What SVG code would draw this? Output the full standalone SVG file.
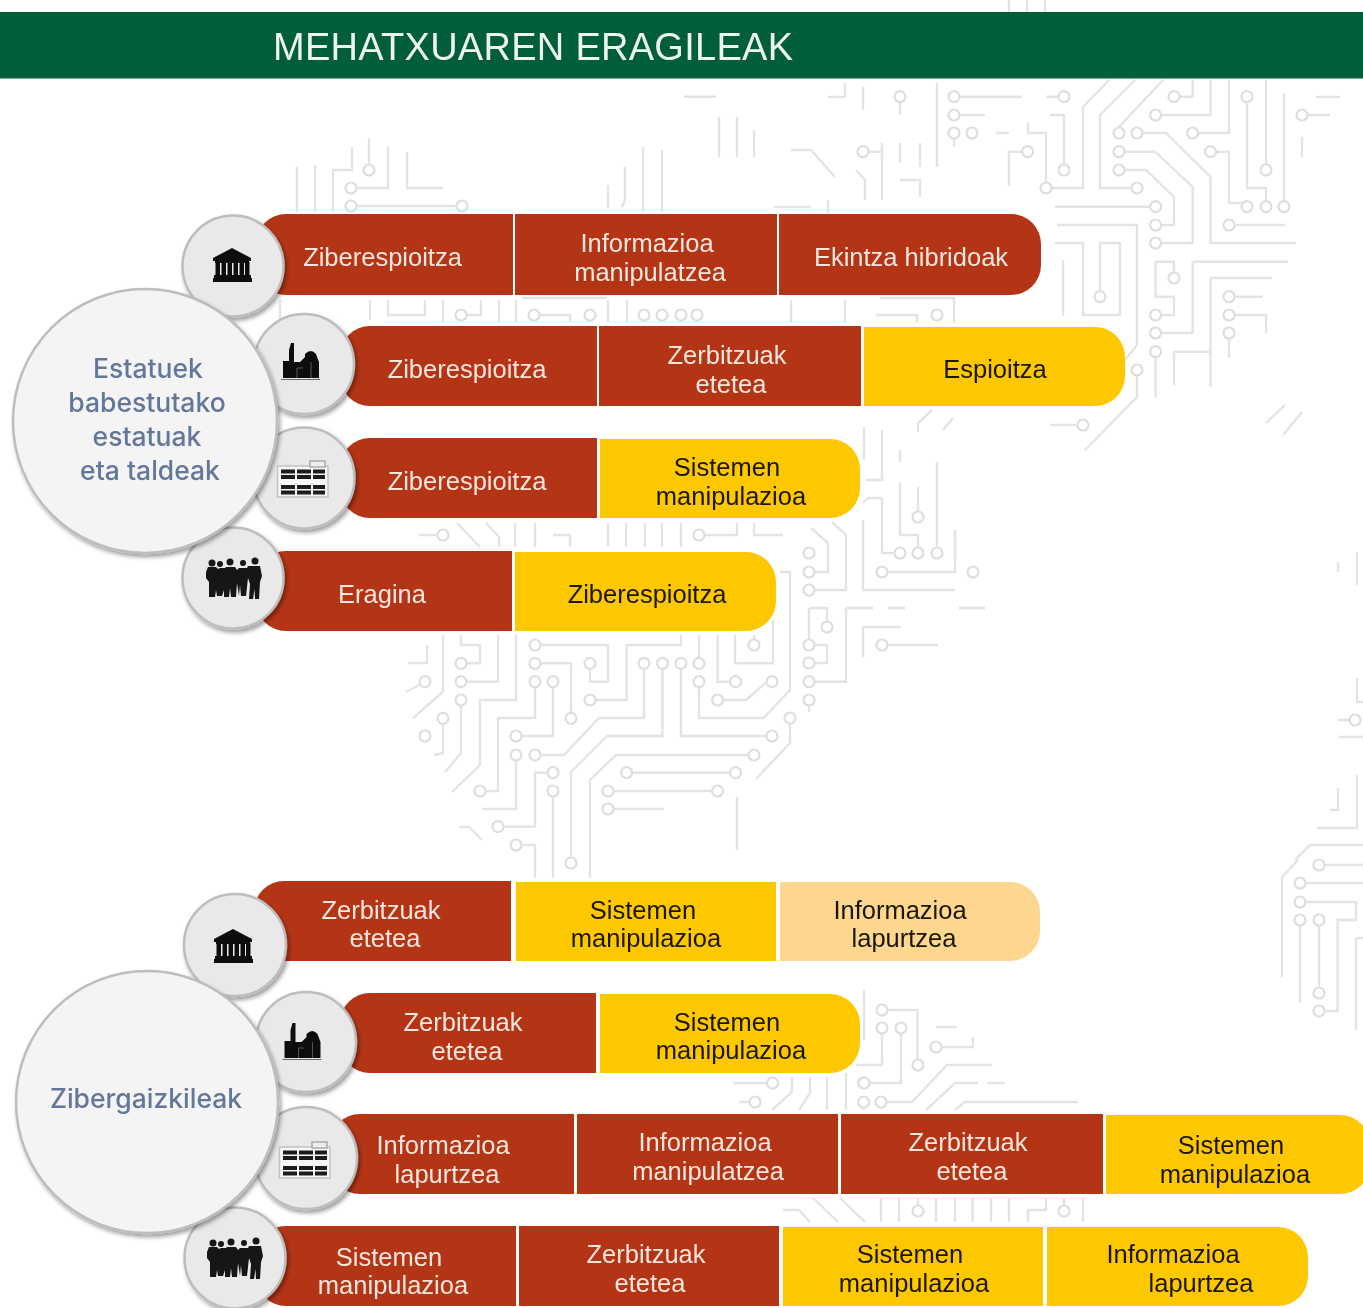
<svg xmlns="http://www.w3.org/2000/svg" xmlns:xlink="http://www.w3.org/1999/xlink" width="1363" height="1308" viewBox="0 0 1363 1308">
<style>
.tr path{fill:none;stroke:#e4e4e4;stroke-width:2.4}
.tr circle{fill:#fff;stroke:#dedede;stroke-width:2.2;r:5.5px}
.red{fill:#b33515}.yel{fill:#fec800}.pea{fill:#fdd78f}
.seg text{font-family:"Liberation Sans",Arial,sans-serif;font-size:25.5px;text-anchor:middle}
.w text{fill:#f9e6de}.k text{fill:#1a1806}
.small{fill:#e9e9e9;stroke:#bdbdbd;stroke-width:2.5}
.big{fill:#f4f4f4;stroke:#bdbdbd;stroke-width:2.5}
.lbl{font-family:Inter,Roboto,sans-serif;font-size:26.5px;font-weight:500;fill:#64779a;text-anchor:middle}
</style>
<defs>
<filter id="sh" x="-15%" y="-15%" width="135%" height="135%"><feDropShadow dx="2" dy="3" stdDeviation="2" flood-color="#000" flood-opacity=".38"/></filter>
<filter id="soft" x="0" y="0" width="100%" height="100%" filterUnits="userSpaceOnUse" primitiveUnits="userSpaceOnUse"><feGaussianBlur stdDeviation=".5"/></filter>
<filter id="bg" x="0" y="0" width="1363" height="1308" filterUnits="userSpaceOnUse"><feGaussianBlur stdDeviation=".7"/></filter>
<filter id="all" x="0" y="0" width="1363" height="1308" filterUnits="userSpaceOnUse"><feGaussianBlur stdDeviation=".5"/></filter>
<g id="bank" fill="#111"><path d="M232,248 L251,258 V261 H213 V258Z"/><rect x="213" y="278" width="39" height="4"/><rect x="214" y="275" width="37" height="3"/><rect x="215" y="261" width="34" height="2"/><rect x="215.500" y="262" width="4.500" height="14"/><rect x="221.500" y="262" width="4.500" height="14"/><rect x="227.500" y="262" width="4.500" height="14"/><rect x="233.500" y="262" width="4.500" height="14"/><rect x="239.500" y="262" width="4.500" height="14"/><rect x="245" y="262" width="4.500" height="14"/></g>
<g id="factory" fill="#111"><path d="M283,378 V361 H289 V350 L291,343 H294 V362 H300 L305,357 V354 Q311,348 316,354 L319,362 V378Z"/><path d="M281,379.500 H320" stroke="#667" stroke-width="1"/><path d="M297,378 V368 H303 M311,378 V362" stroke="#555" stroke-width="1" fill="none"/></g>
<g id="grid"><rect x="277.500" y="466" width="50.500" height="31" fill="#f7f7f7" stroke="#c2c2c2" stroke-width="1.500"/><rect x="310" y="461" width="15" height="6" fill="#eee" stroke="#aaa" stroke-width="1.500"/><g fill="#1c1c1c"><rect x="281" y="469.500" width="14" height="4"/><rect x="281" y="475" width="14" height="4"/><rect x="297" y="469.500" width="14" height="4"/><rect x="297" y="475" width="14" height="4"/><rect x="313" y="469.500" width="12" height="4"/><rect x="313" y="475" width="12" height="4"/><rect x="281" y="485" width="14" height="4"/><rect x="281" y="490.500" width="14" height="4"/><rect x="297" y="485" width="14" height="4"/><rect x="297" y="490.500" width="14" height="4"/><rect x="313" y="485" width="12" height="4"/><rect x="313" y="490.500" width="12" height="4"/></g></g>
<g id="people" fill="#141414"><circle cx="212" cy="563" r="3.500"/><circle cx="220" cy="564" r="3"/><circle cx="230" cy="562" r="3.500"/><circle cx="243" cy="563" r="3"/><circle cx="255" cy="561" r="3.500"/><path d="M206,572 L208,567 H216 L218,569 L220,568 H225 L226,567 H235 L237,570 L239,568 H247 L248,566 H260 L262,576 L260,582 L259,599 H255 L254.500,589 L253,599 H249 L250,584 L248,578 L246,596 H241 L240,585 L239,596 L237,583 L236,597 H231 L230,588 L229,597 H224 L224,590 L222,596 H217 L216,590 L215,597 H209 L209,582 L206,578Z"/></g>
</defs>
<rect width="1363" height="1308" fill="#fff"/>
<g id="circuit-background" class="tr" filter="url(#bg)">
<path d="M1009,0V12M1027,0V12M1045,0V12"/>
<path d="M684,96.700H716M954,96.700H1022M1046,96.700H1064M954,115H985M954,133V147M996,133H1009M1028,123V133H1046V186M1027.600,151.700H1009V186M1050,115H1064V170M1046,188H1083V107L1109,80M1137,188H1100V115L1135,80M1119,133V127L1163,80M1155.600,115H1210.500V80M1174,96.700H1192.600V80M1192.600,133H1229V80M1137,133H1166L1210.500,177V243H1296M1119,151.700H1155L1192.600,187V243H1155.600M1119,170H1146L1174,197V225H1155.600M1210.500,151.700H1229V203H1247M1247,96.700V188H1266V206.700M1266,170V80M1284,206.700V93M1229,225H1285M1055,206.700H1155.600M1057,225H1137V345L1121,365M1055,243H1083V315H1120V243H1100V296.700M1155.600,261.700H1174V278M1155.600,261.700V296.700H1174V315H1155.600M1192.600,261.700H1288M1192.600,261.700V333H1155.600M1210.500,278H1272M1210.500,278V387M1174,351.700H1210M1174,351V385M1155.600,351.700V397M1137,370V397L1085,450M1050,425H1083M1229,296.700H1263M1229,315H1266V333M1229,333V358M1302,412L1283,435M1285,405L1266,423M1063,260V316M1302,115H1330M1316,97H1340M1302,157V137"/>
<path d="M719,117V157M737,117V157M754,130V157M900,96.700V115M863,87V110M845,83V97H828M900,143V163M863,151.700H882M791,150H811L835,177M856,170L865,180V200M882,143V200M900,180H920V197M920,143V167M937,83V167M828,200V213M774,207H811"/>
<path d="M297,167V212M315,165V212M333,212V170H352V147M369,170V138M351,188H388V147M407,152V188H443M351,206H462M643,147V212M662,150V212M625,167V200L622,207M608,185V208"/>
<path d="M280,300V322M370,300V320M388,300V315H400M425,300V315H400M443,300V322M461,315H481V300M499,300V322M516,300V322M534,315H570V322M590,315V322M608,300V322M627,300V322M644,315V322M662,315V322M681,315V322M522,298H607M697,315V322M791,300V323M845,300V323M876,315H917V323M880,298H954V323"/>
<path d="M864,427V460M882,430V480H865M900,450V462M900,483V535H918V553M918,487V517M937,462V553M882,498H868L863,503M882,498V553H900M955,530V558M918,432V423L932,410M943,430L953,418"/>
<path d="M408,663H427V645M419,535H443M457,523L480,547M486,523L499,537V547M515,523V547M535,523V547M553,535H570V547M608,523V547M626,523V547M645,523V547M662,523V547M681,523V547M699,535H737V523M754,523V535H783M828,543L811,528M809,572H828V543M809,590H846V535L832,522M863,590H955M863,590V520M882,572H955V530M809,608H827V627M809,645H827V663H809M809,608V645M846,608H873M888,608H905M959,608H985M846,608V681.700H809M809,700V712M790,718V743L756,779M863,627H901M863,627V657M882,645H938M737,797V850M459,827H469L482,840"/>
<path d="M535,645H608V681.700H590V663M535,663.300H571V718.300M535,681.700V718H498V791H480M553,681.700V736H516M590,700H626.600V645H681V635M644,663.300V718H599L564,755H535M662.500,663.300V736H607L571,772V863M681,663.300V736H772M699,681.700V718H763.600L790,690V572H780M699,663.300V635M717.600,635V681.700H735.600M735,635V663.300H773V620M754,645V635M717.600,700H746L767,681.700H772M754,755H616L590,780V878M626.600,772.700H735.600M608,791H717.600M608,809H664M516,755V809H482M553,772.700H535V826.700H498M553,791V878M516,845H535V878M461,663.300H480V645H461V635M461,681.700H498V635M425,681.700L406,692M443,718.300V753L434,755M443,635V691.700L413,718M461,700V753L445,772M516,635V700H480V765L452,792"/>
<path d="M733,1083H772.500M739,1102H755M792,1077V1092L772,1110M810,1077V1093L799,1110M827,1077V1110M846,1073V1110M863.600,1083H901V1060M863.600,1102V1110M881,1102H912L947,1065H992M926,1110L955,1083H978M987,1083H1005M955,1110L965,1102H1078M882,1010H917.500V1065M882,1028V1065H856M901,1028V1083H864M936,1047H973V1037M936,1027H957M864,990V1040"/>
<path d="M783,1210H799L810,1222M813,1198L838,1222M840,1198L865,1222M881,1198V1222M899,1198V1222M918,1211V1198M936,1198V1222M955,1198V1222M972.500,1198V1222M991,1198V1222M1009,1198V1222M1028,1222V1210H1046V1198M1064,1211V1198M1083,1198V1222"/>
<path d="M1282,877L1298,860M1282,877V977M1300,883H1363M1300,902H1356V920H1337.600V1011H1319M1300,920V1003M1319,920V993M1319,865H1363M1356,938H1363M1356,938V1030M1357,552V585M1338,562V572M1357,678V702H1363M1355,720H1337M1339,737H1363M1357,775V828H1317M1338,788V810H1330M1295,860L1310,845H1363"/>
<circle cx="954" cy="96.700"/><circle cx="1064" cy="96.700"/><circle cx="954" cy="115"/><circle cx="954" cy="133"/><circle cx="972" cy="133"/><circle cx="1027.600" cy="151.700"/><circle cx="1064" cy="170"/><circle cx="1046" cy="188"/><circle cx="1137" cy="188"/><circle cx="1119" cy="133"/><circle cx="1155.600" cy="115"/><circle cx="1174" cy="96.700"/><circle cx="1192.600" cy="133"/><circle cx="1137" cy="133"/><circle cx="1119" cy="151.700"/><circle cx="1155.600" cy="243"/><circle cx="1119" cy="170"/><circle cx="1155.600" cy="225"/><circle cx="1210.500" cy="151.700"/><circle cx="1247" cy="206.700"/><circle cx="1247" cy="96.700"/><circle cx="1266" cy="206.700"/><circle cx="1266" cy="170"/><circle cx="1284" cy="206.700"/><circle cx="1229" cy="225"/><circle cx="1155.600" cy="206.700"/><circle cx="1100" cy="296.700"/><circle cx="1174" cy="278"/><circle cx="1155.600" cy="315"/><circle cx="1155.600" cy="333"/><circle cx="1155.600" cy="351.700"/><circle cx="1137" cy="370"/><circle cx="1083" cy="425"/><circle cx="1229" cy="296.700"/><circle cx="1229" cy="315"/><circle cx="1229" cy="333"/><circle cx="1302" cy="115"/>
<circle cx="900" cy="96.700"/><circle cx="863" cy="151.700"/>
<circle cx="369" cy="170"/><circle cx="351" cy="188"/><circle cx="351" cy="206"/><circle cx="462" cy="206"/>
<circle cx="461" cy="315"/><circle cx="534" cy="315"/><circle cx="590" cy="315"/><circle cx="644" cy="315"/><circle cx="662" cy="315"/><circle cx="681" cy="315"/><circle cx="697" cy="315"/><circle cx="937" cy="315"/>
<circle cx="918" cy="517"/><circle cx="900" cy="553"/><circle cx="918" cy="553"/><circle cx="937" cy="553"/>
<circle cx="443" cy="535"/><circle cx="809" cy="553"/><circle cx="809" cy="572"/><circle cx="809" cy="590"/><circle cx="699" cy="535"/><circle cx="882" cy="572"/><circle cx="973" cy="572"/><circle cx="827" cy="627"/><circle cx="809" cy="645"/><circle cx="809" cy="663"/><circle cx="809" cy="681.700"/><circle cx="809" cy="700"/><circle cx="790" cy="718"/><circle cx="882" cy="645"/>
<circle cx="535" cy="645"/><circle cx="590" cy="663.300"/><circle cx="535" cy="663.300"/><circle cx="571" cy="718.300"/><circle cx="535" cy="681.700"/><circle cx="480" cy="791"/><circle cx="553" cy="681.700"/><circle cx="516" cy="736"/><circle cx="590" cy="700"/><circle cx="644" cy="663.300"/><circle cx="535" cy="755"/><circle cx="662.500" cy="663.300"/><circle cx="571" cy="863"/><circle cx="681" cy="663.300"/><circle cx="772" cy="736"/><circle cx="699" cy="681.700"/><circle cx="699" cy="663.300"/><circle cx="735.600" cy="681.700"/><circle cx="754" cy="645"/><circle cx="717.600" cy="700"/><circle cx="772" cy="681.700"/><circle cx="754" cy="755"/><circle cx="626.600" cy="772.700"/><circle cx="735.600" cy="772.700"/><circle cx="608" cy="791"/><circle cx="717.600" cy="791"/><circle cx="608" cy="809"/><circle cx="516" cy="755"/><circle cx="553" cy="772.700"/><circle cx="498" cy="826.700"/><circle cx="553" cy="791"/><circle cx="516" cy="845"/><circle cx="461" cy="663.300"/><circle cx="461" cy="681.700"/><circle cx="425" cy="681.700"/><circle cx="443" cy="718.300"/><circle cx="425" cy="736"/><circle cx="461" cy="700"/>
<circle cx="772.500" cy="1083"/><circle cx="755" cy="1102"/><circle cx="863.600" cy="1083"/><circle cx="863.600" cy="1102"/><circle cx="881" cy="1102"/><circle cx="918" cy="1065"/><circle cx="882" cy="1010"/><circle cx="882" cy="1028"/><circle cx="901" cy="1028"/><circle cx="864" cy="1083"/><circle cx="936" cy="1047"/>
<circle cx="918" cy="1211"/><circle cx="1064" cy="1211"/>
<circle cx="1300" cy="883"/><circle cx="1300" cy="902"/><circle cx="1319" cy="1011"/><circle cx="1300" cy="920"/><circle cx="1319" cy="920"/><circle cx="1319" cy="993"/><circle cx="1319" cy="865"/><circle cx="1355" cy="720"/>
</g>
<g id="foreground" filter="url(#all)">
<g id="title"><rect y="12" width="1363" height="66.500" fill="#025e39"/><text x="273" y="60" font-family="'Liberation Sans',Arial,sans-serif" font-size="38" fill="#eef5f1" textLength="520">MEHATXUAREN ERAGILEAK</text></g>
<g id="bars">
<g id="r1a" class="seg w"><path class="red" d="M286,214H513V295H286A30,30 0 0 1 256,265V244A30,30 0 0 1 286,214Z"/><text x="382.500" y="266">Ziberespioitza</text></g>
<g id="r1b" class="seg w"><rect class="red" x="515" y="214" width="262" height="81"/><text x="647" y="252">Informazioa</text><text x="650" y="281">manipulatzea</text></g>
<g id="r1c" class="seg w"><path class="red" d="M779,214H1011A30,30 0 0 1 1041,244V265A30,30 0 0 1 1011,295H779Z"/><text x="911" y="266">Ekintza hibridoak</text></g>
<g id="r2a" class="seg w"><path class="red" d="M370,326H597V406H370A30,30 0 0 1 340,376V356A30,30 0 0 1 370,326Z"/><text x="467" y="378">Ziberespioitza</text></g>
<g id="r2b" class="seg w"><rect class="red" x="599" y="326" width="262" height="80"/><text x="727" y="364">Zerbitzuak</text><text x="731" y="393">etetea</text></g>
<g id="r2c" class="seg k"><path class="yel" d="M864,327H1095A30,30 0 0 1 1125,357V376A30,30 0 0 1 1095,406H864Z"/><text x="995" y="378">Espioitza</text></g>
<g id="r3a" class="seg w"><path class="red" d="M370,438H597V518H370A30,30 0 0 1 340,488V468A30,30 0 0 1 370,438Z"/><text x="467" y="490">Ziberespioitza</text></g>
<g id="r3b" class="seg k"><path class="yel" d="M600,439H830A30,30 0 0 1 860,469V488A30,30 0 0 1 830,518H600Z"/><text x="727" y="476">Sistemen</text><text x="731" y="505">manipulazioa</text></g>
<g id="r4a" class="seg w"><path class="red" d="M286,551H512V631H286A30,30 0 0 1 256,601V581A30,30 0 0 1 286,551Z"/><text x="382" y="603">Eragina</text></g>
<g id="r4b" class="seg k"><path class="yel" d="M515,552H746A30,30 0 0 1 776,582V601A30,30 0 0 1 746,631H515Z"/><text x="647" y="603">Ziberespioitza</text></g>
<g id="r5a" class="seg w"><path class="red" d="M284,881H511V961H284A30,30 0 0 1 254,931V911A30,30 0 0 1 284,881Z"/><text x="381" y="919">Zerbitzuak</text><text x="385" y="947">etetea</text></g>
<g id="r5b" class="seg k"><rect class="yel" x="516" y="882" width="260" height="79"/><text x="643" y="919">Sistemen</text><text x="646" y="947">manipulazioa</text></g>
<g id="r5c" class="seg k"><path class="pea" d="M780,882H1010A30,30 0 0 1 1040,912V931A30,30 0 0 1 1010,961H780Z"/><text x="900" y="919">Informazioa</text><text x="904" y="947">lapurtzea</text></g>
<g id="r6a" class="seg w"><path class="red" d="M370,993H596V1073H370A30,30 0 0 1 340,1043V1023A30,30 0 0 1 370,993Z"/><text x="463" y="1031">Zerbitzuak</text><text x="467" y="1060">etetea</text></g>
<g id="r6b" class="seg k"><path class="yel" d="M600,994H830A30,30 0 0 1 860,1024V1043A30,30 0 0 1 830,1073H600Z"/><text x="727" y="1031">Sistemen</text><text x="731" y="1059">manipulazioa</text></g>
<g id="r7a" class="seg w"><path class="red" d="M360,1114H574V1194H360A30,30 0 0 1 330,1164V1144A30,30 0 0 1 360,1114Z"/><text x="443" y="1154">Informazioa</text><text x="447" y="1183">lapurtzea</text></g>
<g id="r7b" class="seg w"><rect class="red" x="577" y="1114" width="261" height="80"/><text x="705" y="1151">Informazioa</text><text x="708" y="1180">manipulatzea</text></g>
<g id="r7c" class="seg w"><rect class="red" x="841" y="1114" width="262" height="80"/><text x="968" y="1151">Zerbitzuak</text><text x="972" y="1180">etetea</text></g>
<g id="r7d" class="seg k"><path class="yel" d="M1106,1115H1340A30,30 0 0 1 1370,1145V1164A30,30 0 0 1 1340,1194H1106Z"/><text x="1231" y="1154">Sistemen</text><text x="1235" y="1183">manipulazioa</text></g>
<g id="r8a" class="seg w"><path class="red" d="M286,1226H516V1306H286A30,30 0 0 1 256,1276V1256A30,30 0 0 1 286,1226Z"/><text x="389" y="1266">Sistemen</text><text x="393" y="1294">manipulazioa</text></g>
<g id="r8b" class="seg w"><rect class="red" x="519" y="1226" width="260" height="80"/><text x="646" y="1263">Zerbitzuak</text><text x="650" y="1292">etetea</text></g>
<g id="r8c" class="seg k"><rect class="yel" x="783" y="1227" width="260" height="79"/><text x="910" y="1263">Sistemen</text><text x="914" y="1292">manipulazioa</text></g>
<g id="r8d" class="seg k"><path class="yel" d="M1047,1227H1278A30,30 0 0 1 1308,1257V1276A30,30 0 0 1 1278,1306H1047Z"/><text x="1173" y="1263">Informazioa</text><text x="1201" y="1292">lapurtzea</text></g>
</g>
<g id="icon-nodes">
<g id="a1"><circle class="small" filter="url(#sh)" cx="233" cy="266" r="50.500"/><use href="#bank"/></g>
<g id="a2"><circle class="small" filter="url(#sh)" cx="304" cy="364" r="50"/><use href="#factory"/></g>
<g id="a3"><circle class="small" filter="url(#sh)" cx="304" cy="478" r="50.500"/><use href="#grid"/></g>
<g id="a4"><circle class="small" filter="url(#sh)" cx="233" cy="578" r="50.500"/><use href="#people"/></g>
<g id="b1"><circle class="small" filter="url(#sh)" cx="235" cy="945" r="51"/><use href="#bank" transform="translate(1,681)"/></g>
<g id="b2"><circle class="small" filter="url(#sh)" cx="306" cy="1042" r="50"/><use href="#factory" transform="translate(1.500,680)"/></g>
<g id="b3"><circle class="small" filter="url(#sh)" cx="306" cy="1158" r="51"/><use href="#grid" transform="translate(2,681)"/></g>
<g id="b4"><circle class="small" filter="url(#sh)" cx="235" cy="1258" r="50.500"/><use href="#people" transform="translate(1,680)"/></g>
</g>
<g id="node-states"><circle class="big" filter="url(#sh)" cx="145" cy="421" r="132"/><text class="lbl" x="148" y="378">Estatuek</text><text class="lbl" x="147" y="412">babestutako</text><text class="lbl" x="147" y="446">estatuak</text><text class="lbl" x="150" y="480">eta taldeak</text></g>
<g id="node-criminals"><circle class="big" filter="url(#sh)" cx="147" cy="1102" r="131"/><text class="lbl" x="146" y="1108">Zibergaizkileak</text></g>
</g>
</svg>
